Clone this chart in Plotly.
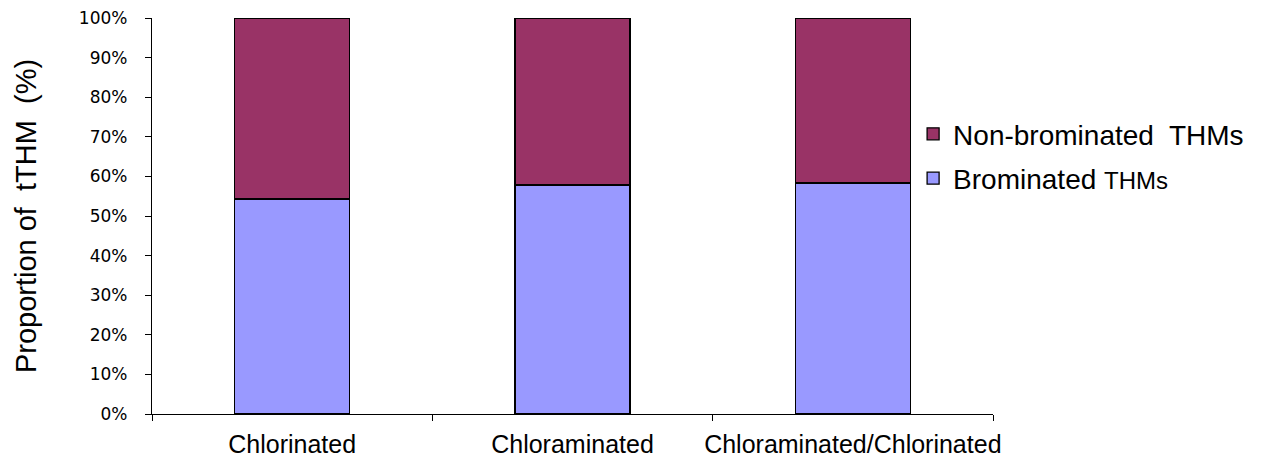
import plotly.graph_objects as go

categories = ["Chlorinated", "Chloraminated", "Chloraminated/Chlorinated"]
brominated = [54.3, 57.8, 58.3]
non_brominated = [45.7, 42.2, 41.7]
y_ticks = [0, 10, 20, 30, 40, 50, 60, 70, 80, 90, 100]
y_labels = [f"{v}%" for v in y_ticks]

fig = go.Figure()
fig.add_trace(go.Bar(
    x=categories, y=brominated,
    name="Brominated <span style='font-size:24px'>THMs</span>",
    legendgroup="b", legendrank=2,
    marker=dict(color="#9999FF", line=dict(color="black", width=1.3)),
    width=0.41))
fig.add_trace(go.Bar(
    x=categories, y=non_brominated,
    name="Non-brominated&nbsp; THMs",
    legendgroup="n", legendrank=1,
    marker=dict(color="#993366", line=dict(color="black", width=1.3)),
    width=0.41))

# browser body margin shifts the plot; margins compensate
fig.update_layout(
    width=1267, height=464,
    barmode="stack",
    plot_bgcolor="white", paper_bgcolor="white",
    margin=dict(l=144, r=282, t=10, b=58, autoexpand=False),
    font=dict(family="Liberation Sans, Arial, sans-serif", color="black"),
    legend=dict(x=0.905, y=0.77, xanchor="left", yanchor="top",
                bgcolor="rgba(0,0,0,0)",
                traceorder="grouped", font=dict(size=28),
                itemwidth=30, tracegroupgap=5),
    showlegend=True,
)
fig.update_xaxes(
    type="category", range=[-0.5, 2.5], automargin=False,
    showline=True, linecolor="black", linewidth=1.3,
    ticks="outside", tickson="boundaries", ticklen=6, tickcolor="black",
    tickfont=dict(size=25), tickangle=0, ticklabelstandoff=8,
    ticklabeloverflow="allow", showgrid=False)
fig.update_yaxes(
    range=[0, 100], tickvals=y_ticks, ticktext=y_labels, automargin=False,
    showline=True, linecolor="black", linewidth=1.3,
    ticks="outside", ticklen=6, tickcolor="black",
    tickfont=dict(family="DejaVu Sans", size=17), ticklabelstandoff=14,
    ticklabeloverflow="allow", showgrid=False, zeroline=False,
    title=dict(text="Proportion of&nbsp; tTHM&nbsp; (%)",
               font=dict(size=29), standoff=33))

fig.write_html("out.html")
